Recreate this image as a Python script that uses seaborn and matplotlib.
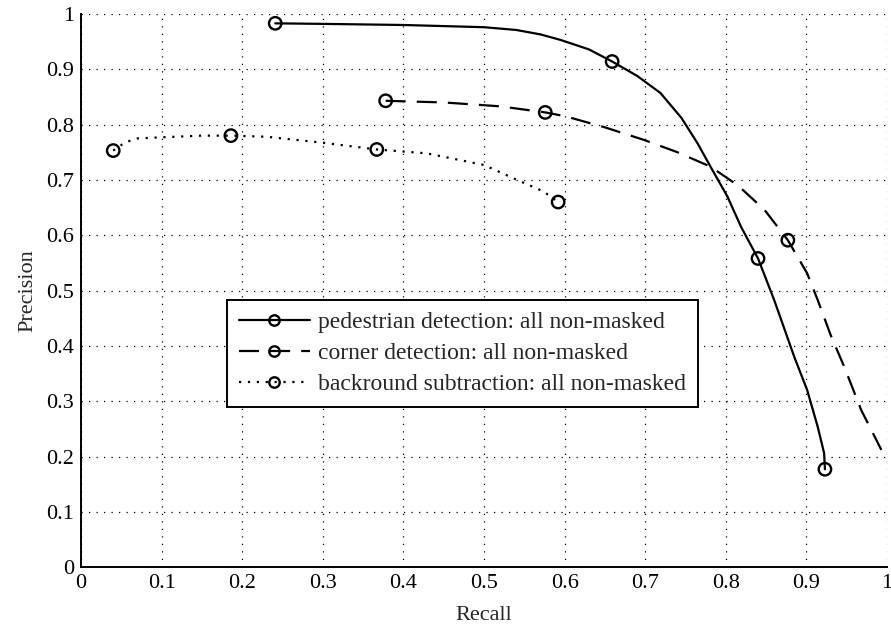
import matplotlib
matplotlib.use("Agg")
import matplotlib.pyplot as plt
from matplotlib.lines import Line2D
import numpy as np
import pandas as pd
import seaborn as sns

# --- data ---
LABELS = [
    "pedestrian detection: all non-masked",
    "corner detection: all non-masked",
    "backround subtraction: all non-masked",
]

ped_x = [0.241, 0.30, 0.40, 0.50, 0.54, 0.57, 0.595, 0.63, 0.659, 0.69, 0.719, 0.745,
         0.765, 0.781, 0.802, 0.819, 0.840, 0.860, 0.885, 0.901, 0.914, 0.922, 0.923]
ped_y = [0.983, 0.982, 0.980, 0.976, 0.971, 0.963, 0.953, 0.936, 0.914, 0.888, 0.857, 0.812,
         0.766, 0.724, 0.670, 0.615, 0.558, 0.483, 0.380, 0.320, 0.254, 0.206, 0.177]

cor_x = [0.378, 0.45, 0.52, 0.576, 0.601, 0.65, 0.699, 0.74, 0.781, 0.815, 0.848,
         0.877, 0.901, 0.914, 0.93, 0.947, 0.968, 0.993]
cor_y = [0.843, 0.840, 0.833, 0.822, 0.815, 0.795, 0.772, 0.750, 0.724, 0.690, 0.646,
         0.591, 0.531, 0.483, 0.420, 0.362, 0.284, 0.212]

bg_x = [0.040, 0.055, 0.07, 0.10, 0.15, 0.186, 0.23, 0.301, 0.367, 0.429, 0.50,
        0.541, 0.574, 0.592]
bg_y = [0.753, 0.768, 0.775, 0.777, 0.780, 0.780, 0.778, 0.767, 0.755, 0.748, 0.727,
        0.700, 0.679, 0.660]

# marker positions
ped_mx = [0.241, 0.659, 0.840, 0.923]
ped_my = [0.983, 0.914, 0.558, 0.177]
cor_mx = [0.378, 0.576, 0.877]
cor_my = [0.843, 0.822, 0.591]
bg_mx = [0.040, 0.186, 0.367, 0.592]
bg_my = [0.753, 0.780, 0.755, 0.660]

TICKS = ["0", "0.1", "0.2", "0.3", "0.4", "0.5", "0.6", "0.7", "0.8", "0.9", "1"]

curves = pd.concat([
    pd.DataFrame({"recall": ped_x, "precision": ped_y, "method": LABELS[0]}),
    pd.DataFrame({"recall": cor_x, "precision": cor_y, "method": LABELS[1]}),
    pd.DataFrame({"recall": bg_x, "precision": bg_y, "method": LABELS[2]}),
], ignore_index=True)

marks = pd.concat([
    pd.DataFrame({"recall": ped_mx, "precision": ped_my, "method": LABELS[0]}),
    pd.DataFrame({"recall": cor_mx, "precision": cor_my, "method": LABELS[1]}),
    pd.DataFrame({"recall": bg_mx, "precision": bg_my, "method": LABELS[2]}),
], ignore_index=True)

DASHES = {LABELS[0]: "", LABELS[1]: (9, 5), LABELS[2]: (1, 3)}
FS = 16

sns.set_style("white")
plt.rcParams["font.family"] = ["Liberation Serif", "DejaVu Serif"]
plt.rcParams["font.size"] = FS

fig = plt.figure(figsize=(8.91, 6.33), dpi=100)
ax = fig.add_axes([0.0909, 0.104, 0.9046, 0.874])

sns.lineplot(data=curves, x="recall", y="precision", style="method",
             dashes=DASHES, color="black", linewidth=1.6, sort=False,
             estimator=None, legend=False, ax=ax)
sns.scatterplot(data=marks, x="recall", y="precision", marker="o", s=80,
                facecolor="none", edgecolor="black", linewidth=1.7,
                legend=False, ax=ax, zorder=5)

ax.set_xlim(0, 1)
ax.set_ylim(0, 1)
ax.set_xticks(np.linspace(0, 1, 11))
ax.set_yticks(np.linspace(0, 1, 11))
ax.set_xticklabels(TICKS)
ax.set_yticklabels(TICKS)
ax.grid(True, color="black", linestyle=(0, (1, 5)), linewidth=0.9)
ax.tick_params(direction="in", length=7, width=1.2, colors="black", labelsize=FS,
               pad=5)
for side in ["top", "right"]:
    ax.spines[side].set_visible(False)
for side in ["left", "bottom"]:
    ax.spines[side].set_color("black")
    ax.spines[side].set_linewidth(1.4)

ax.set_xlabel("Recall", fontsize=FS, labelpad=9)
ax.set_ylabel("Precision", fontsize=FS, labelpad=6)

handles = [
    Line2D([], [], color="black", lw=1.6, ls=ls, marker="o", ms=7.5,
           mfc="none", mew=1.7)
    for ls in ["-", (0, (9, 5)), (0, (1, 3))]
]
leg = ax.legend(handles, LABELS, loc="upper left", bbox_to_anchor=(0.181, 0.483),
                borderaxespad=0, fontsize=17, handlelength=3.0, handletextpad=0.35,
                fancybox=False, framealpha=1, edgecolor="black",
                borderpad=0.5, labelspacing=0.4)
leg.get_frame().set_linewidth(1.4)

fig.savefig("out.png", dpi=100)
